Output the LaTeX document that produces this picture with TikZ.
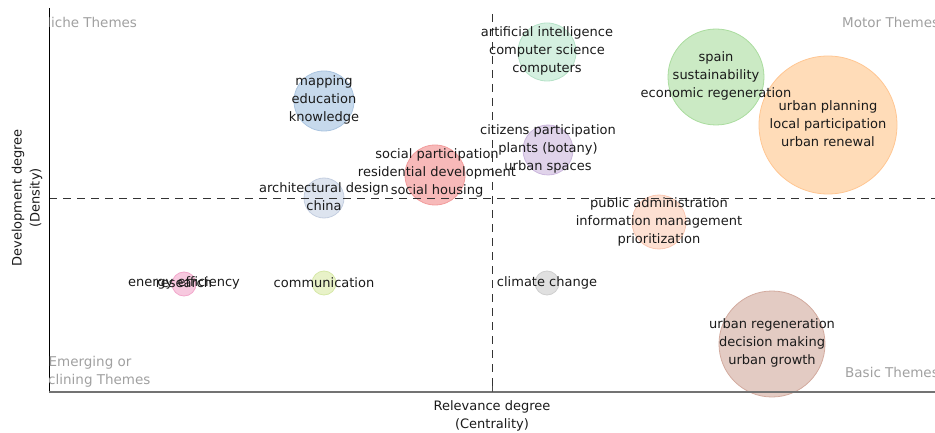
\documentclass[tikz,border=0pt]{standalone}
\usepackage{fontspec}
\setmainfont{DejaVu Sans}
\definecolor{txt}{HTML}{1A1A1A}
\definecolor{corner}{HTML}{A0A0A0}
\tikzset{
  bub/.style={circle, draw, line width=0.8pt, inner sep=0pt},
  lbl/.style={align=center, text=txt, font=\fontsize{13}{18}\selectfont, inner sep=0pt},
  cornerlbl/.style={align=center, text=corner, font=\fontsize{13.5}{18}\selectfont, inner sep=0pt},
  quad/.style={dashed, dash pattern=on 8pt off 6pt, line width=0.9pt, black!80},
}
\begin{document}
\begin{tikzpicture}[x=1pt,y=-1pt]
\useasboundingbox (0,0) rectangle (935,433);
% bubbles
\node[bub, fill={rgb,255:red,198;green,217;blue,236}, draw={rgb,255:red,170;green,196;blue,224}, minimum size=60pt] (b1) at (324,101) {};
\node[bub, fill={rgb,255:red,212;green,240;blue,224}, draw={rgb,255:red,182;green,226;blue,200}, minimum size=58pt] (b2) at (547,52) {};
\node[bub, fill={rgb,255:red,203;green,234;blue,196}, draw={rgb,255:red,170;green,220;blue,158}, minimum size=96pt] (b3) at (716,77) {};
\node[bub, fill={rgb,255:red,255;green,220;blue,184}, draw={rgb,255:red,255;green,198;blue,146}, minimum size=138pt] (b4) at (828,125) {};
\node[bub, fill={rgb,255:red,224;green,211;blue,234}, draw={rgb,255:red,204;green,184;blue,222}, minimum size=50pt] (b5) at (548,150) {};
\node[bub, fill={rgb,255:red,247;green,185;blue,185}, draw={rgb,255:red,242;green,156;blue,156}, minimum size=60pt] (b6) at (435,175) {};
\node[bub, fill={rgb,255:red,221;green,228;blue,239}, draw={rgb,255:red,196;green,206;blue,224}, minimum size=40pt] (b7) at (324,198) {};
\node[bub, fill={rgb,255:red,253;green,224;blue,210}, draw={rgb,255:red,251;green,200;blue,178}, minimum size=54pt] (b8) at (659,222) {};
\node[bub, fill={rgb,255:red,247;green,201;blue,223}, draw={rgb,255:red,242;green,168;blue,204}, minimum size=24pt] (b9) at (184,284) {};
\node[bub, fill={rgb,255:red,232;green,242;blue,200}, draw={rgb,255:red,214;green,232;blue,168}, minimum size=24pt] (b10) at (324,283) {};
\node[bub, fill={rgb,255:red,224;green,224;blue,224}, draw={rgb,255:red,207;green,207;blue,207}, minimum size=24pt] (b11) at (547,283) {};
\node[bub, fill={rgb,255:red,227;green,203;blue,195}, draw={rgb,255:red,211;green,171;blue,159}, minimum size=106pt] (b12) at (772,344) {};
% axes and quadrant lines
\coordinate (o) at (49,392);
\coordinate (ytop) at (49,8);
\coordinate (xend) at (935,392);
\coordinate (vtop) at (492,14);
\coordinate (vbot) at (492,392);
\coordinate (hl) at (49,198);
\coordinate (hr) at (935,198);
\coordinate (tick) at (492,386);
\draw[quad] (vtop) -- (vbot);
\draw[quad] (hl) -- (hr);
\draw[line width=0.9pt, black] (ytop) -- (o);
\draw[line width=1.6pt, black!55] (o) -- (xend);
\draw[line width=0.8pt, black!70] (tick) -- (vbot);
% corner labels
\begin{scope}
\clip (49,0) rectangle (935,392);
\node[cornerlbl] (niche) at (89,22) {Niche Themes};
\node[cornerlbl, anchor=west] (motor) at (842,22) {Motor Themes};
\node[cornerlbl] (emerg) at (90,372) {Emerging or\\Declining Themes};
\node[cornerlbl, anchor=west] (basic) at (845,372) {Basic Themes};
\end{scope}
% bubble labels
\node[lbl] (t2) at (547,51) {artificial intelligence\\computer science\\computers};
\node[lbl] (t1) at (324,100) {mapping\\education\\knowledge};
\node[lbl] (t3) at (716,76) {spain\\sustainability\\economic regeneration};
\node[lbl] (t4) at (828,124) {urban planning\\local participation\\urban renewal};
\node[lbl] (t5) at (548,149) {citizens participation\\plants (botany)\\urban spaces};
\node[lbl] (t6) at (437,173) {social participation\\residential development\\social housing};
\node[lbl] (t7) at (324,197) {architectural design\\china};
\node[lbl] (t8) at (659,222) {public administration\\information management\\prioritization};
\node[lbl] (t9a) at (184,283) {energy efficiency};
\node[lbl] (t9b) at (184,283) {research};
\node[lbl] (t10) at (324,283) {communication};
\node[lbl] (t11) at (547,283) {climate change};
\node[lbl] (t12) at (772,343) {urban regeneration\\decision making\\urban growth};
% axis labels
\node[lbl] (xlab) at (492,416) {Relevance degree\\(Centrality)};
\node[lbl, rotate=90] (ylab) at (27,198) {Development degree\\(Density)};
\end{tikzpicture}
\end{document}
